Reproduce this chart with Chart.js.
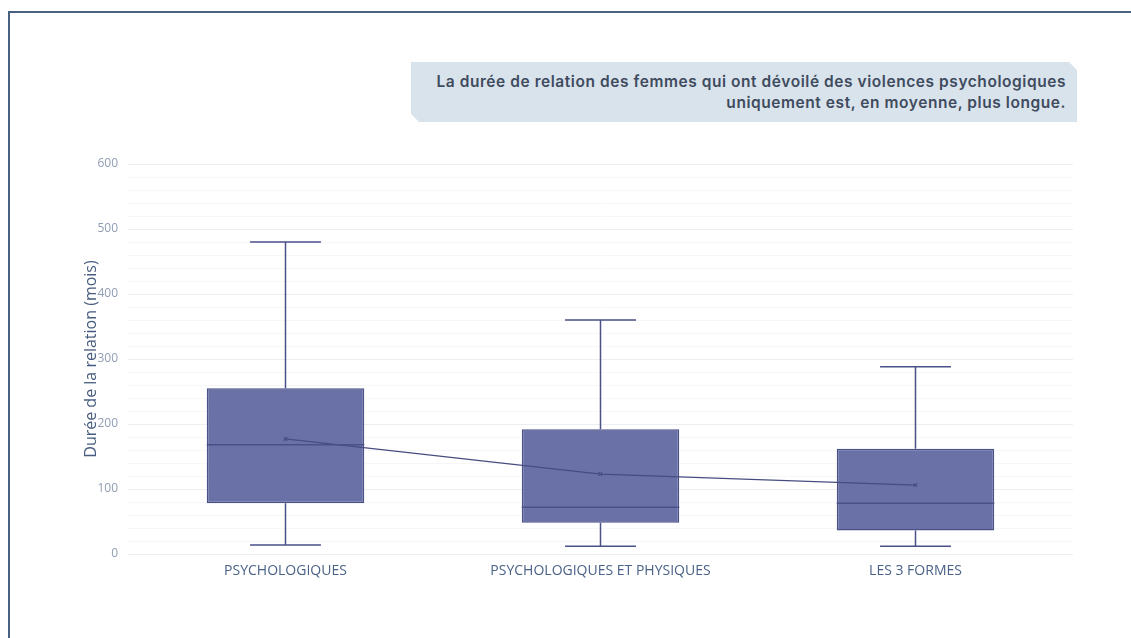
<!DOCTYPE html>
<html>
<head>
<meta charset="utf-8">
<script src="https://cdn.jsdelivr.net/npm/chart.js@4"></script>
<style>
  html, body { margin: 0; padding: 0; background: #fff; }
  body { width: 1131px; height: 638px; position: relative; overflow: hidden; }
  #frame {
    position: absolute; left: 8px; top: 11px; width: 1200px; height: 700px;
    border: 2px solid #4a6080; box-sizing: border-box;
  }
  #note {
    position: absolute; left: 411px; top: 62px; width: 666px; height: 60px;
    background: #d9e3ec; box-sizing: border-box; padding: 9px 11px 0 0;
    clip-path: polygon(0 0, calc(100% - 8px) 0, 100% 8px, 100% 100%, 8px 100%, 0 calc(100% - 8px));
    font-family: Inter, sans-serif; font-weight: 600; font-size: 15.5px; line-height: 21px;
    letter-spacing: 0.56px;
    color: #3f4b5e; text-align: right;
  }
  #wrap { position: absolute; left: 0; top: 0; width: 1131px; height: 638px; }
</style>
</head>
<body>
<div id="frame"></div>
<div id="wrap"><canvas id="chart"></canvas></div>
<div id="note">La durée de relation des femmes qui ont dévoilé des violences psychologiques<br>uniquement est, en moyenne, plus longue.</div>
<script>
const categories = ['PSYCHOLOGIQUES', 'PSYCHOLOGIQUES ET PHYSIQUES', 'LES 3 FORMES'];
const minValues = [14, 12, 12];
const q1Values = [78, 48, 36];
const medianValues = [168, 72, 78];
const q3Values = [255, 192, 162];
const maxValues = [480, 360, 288];
const meanValues = [177, 123, 106];
const yTicks = [0, 100, 200, 300, 400, 500, 600];

const boxFill = 'rgba(95, 102, 160, 0.93)';
const boxLine = '#4a5088';

// whiskers, caps and medians drawn through the chart scales
const boxExtras = {
  id: 'boxExtras',
  afterDatasetsDraw(chart) {
    const { ctx, scales: { x, y } } = chart;
    const meta = chart.getDatasetMeta(0);
    ctx.save();
    ctx.strokeStyle = boxLine;
    ctx.lineWidth = 1.5;
    categories.forEach((c, i) => {
      const bar = meta.data[i];
      const cx = x.getPixelForValue(i);
      const half = bar.width / 2;
      const capHalf = half * 0.45;
      const yMin = y.getPixelForValue(minValues[i]);
      const yQ1 = y.getPixelForValue(q1Values[i]);
      const yQ3 = y.getPixelForValue(q3Values[i]);
      const yMax = y.getPixelForValue(maxValues[i]);
      const yMed = y.getPixelForValue(medianValues[i]);
      ctx.beginPath();
      ctx.moveTo(cx, yQ3); ctx.lineTo(cx, yMax);
      ctx.moveTo(cx - capHalf, yMax); ctx.lineTo(cx + capHalf, yMax);
      ctx.moveTo(cx, yQ1); ctx.lineTo(cx, yMin);
      ctx.moveTo(cx - capHalf, yMin); ctx.lineTo(cx + capHalf, yMin);
      ctx.moveTo(cx - half, yMed); ctx.lineTo(cx + half, yMed);
      ctx.stroke();
    });
    ctx.restore();
  }
};

new Chart(document.getElementById('chart'), {
  data: {
    labels: categories,
    datasets: [
      {
        type: 'bar',
        order: 2,
        data: q1Values.map((v, i) => [v, q3Values[i]]),
        backgroundColor: boxFill,
        borderColor: boxLine,
        borderWidth: 1.5,
        borderSkipped: false,
        barPercentage: 0.5,
        categoryPercentage: 1
      },
      {
        type: 'line',
        order: 0,
        data: meanValues,
        borderColor: '#474d80',
        borderWidth: 1.2,
        pointStyle: 'crossRot',
        pointRadius: 2.5,
        pointBorderColor: '#474d80',
        pointBorderWidth: 1.2,
        fill: false,
        tension: 0
      }
    ]
  },
  options: {
    responsive: true,
    maintainAspectRatio: false,
    animation: false,
    layout: { padding: { left: 78, right: 58, top: 164, bottom: 54 } },
    plugins: { legend: { display: false }, tooltip: { enabled: false } },
    scales: {
      x: {
        offset: true,
        grid: { display: false },
        border: { display: false },
        ticks: {
          color: '#4a6288', padding: 1,
          font: { family: 'Open Sans', size: 14 }
        },
        afterFit(scale) { scale.height = 30; }
      },
      y: {
        min: 0, max: 600,
        border: { display: false },
        grid: {
          drawTicks: false,
          color: ctx => (ctx.tick && ctx.tick.value % 100 === 0) ? '#eceef2' : '#f6f7f9',
          lineWidth: 1
        },
        ticks: {
          stepSize: 20,
          autoSkip: false,
          padding: 10,
          color: '#8f9db3',
          font: { family: 'Open Sans', size: 12 },
          callback: v => yTicks.includes(v) ? v : ''
        },
        title: {
          display: true,
          text: 'Durée de la relation (mois)',
          color: '#475c7e',
          font: { family: 'Open Sans', size: 16, weight: '500' },
          padding: { top: 4, bottom: 0 }
        },
        afterFit(scale) { scale.width = 50; }
      }
    }
  },
  plugins: [boxExtras]
});
</script>
</body>
</html>
